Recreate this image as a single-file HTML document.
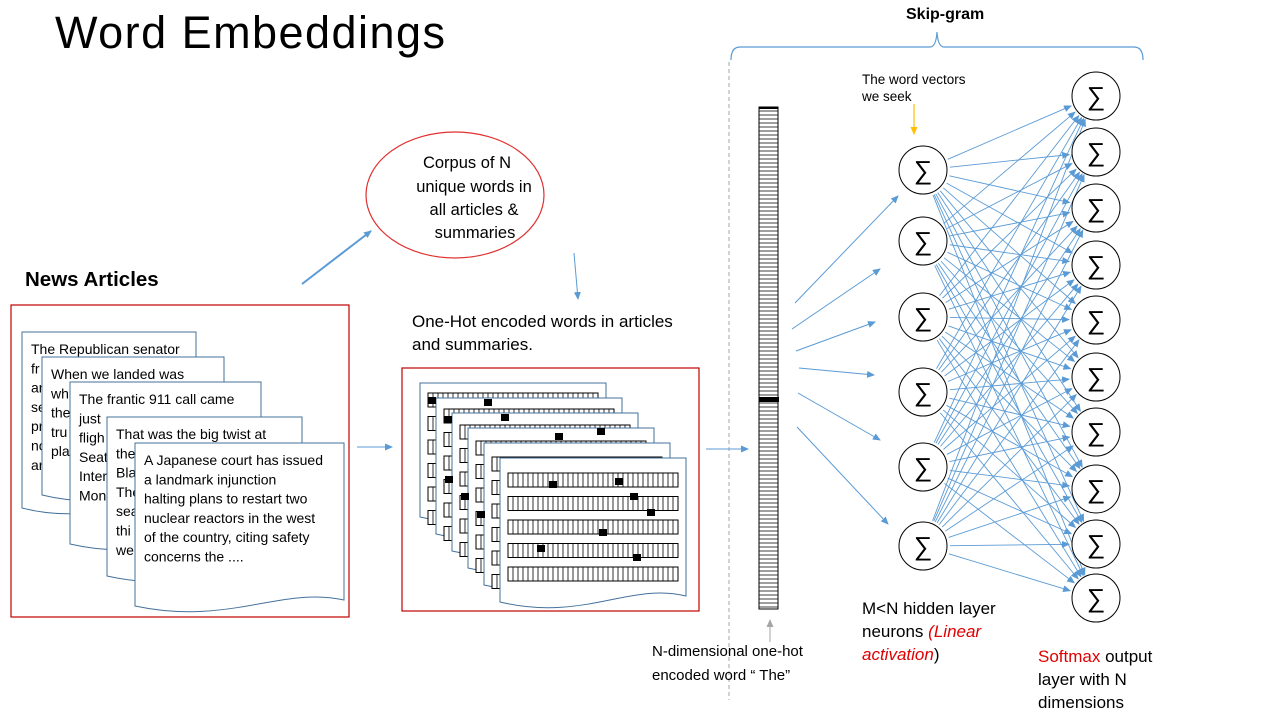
<!DOCTYPE html>
<html><head><meta charset="utf-8"><style>
html,body{margin:0;padding:0;background:#fff;}
svg{display:block;font-family:"Liberation Sans",sans-serif;}
</style></head><body>
<svg id="s" width="1280" height="720" viewBox="0 0 1280 720" xmlns="http://www.w3.org/2000/svg">
<defs>
<marker id="ab" markerWidth="8" markerHeight="8" refX="7" refY="4" orient="auto" markerUnits="userSpaceOnUse"><path d="M0,0.5 L8,4 L0,7.5 Z" fill="#5b9bd5"/></marker>
<marker id="ay" markerWidth="8" markerHeight="8" refX="7" refY="4" orient="auto" markerUnits="userSpaceOnUse"><path d="M0,0.5 L8,4 L0,7.5 Z" fill="#ffc000"/></marker>
<marker id="ag" markerWidth="8" markerHeight="8" refX="7" refY="4" orient="auto" markerUnits="userSpaceOnUse"><path d="M0,0.5 L8,4 L0,7.5 Z" fill="#a6a6a6"/></marker>
</defs>
<text x="55" y="48" font-size="45" fill="#000" textLength="390">Word Embeddings</text>
<text x="906" y="19" font-size="16" font-weight="bold">Skip-gram</text>
<path d="M731,60 Q731,47 740,47 L930,47 Q936,47 937,32 Q938,47 944,47 L1134,47 Q1143,47 1143,60" fill="none" stroke="#5b9bd5" stroke-width="1.2"/>
<line x1="729" y1="62" x2="729" y2="700" stroke="#a6a6a6" stroke-dasharray="4,3"/>

<ellipse cx="455" cy="195" rx="89" ry="63" fill="#fff" stroke="#e03030" stroke-width="1.2"/>
<g font-size="16.5" text-anchor="middle"><text x="467" y="168">Corpus of  N</text><text x="474" y="192">unique words in</text><text x="474" y="215">all articles &amp;</text><text x="475" y="238">summaries</text></g>
<line x1="302" y1="284" x2="371" y2="231" stroke="#5b9bd5" stroke-width="2" marker-end="url(#ab)"/>
<line x1="574" y1="253" x2="578" y2="299" stroke="#5b9bd5" stroke-width="1" marker-end="url(#ab)"/>

<text x="25" y="286" font-size="20.5" font-weight="bold">News Articles</text>
<rect x="11" y="305" width="338" height="312" fill="none" stroke="#c00000" stroke-width="1.2"/>
<g id="docs" stroke="#44719b" stroke-width="1" fill="#fff" font-size="14"></g>

<line x1="357" y1="447" x2="392" y2="447" stroke="#5b9bd5" marker-end="url(#ab)"/>
<g font-size="17"><text x="412" y="327">One-Hot encoded words in articles</text><text x="412" y="350">and summaries.</text></g>
<rect x="402" y="368" width="297" height="243" fill="none" stroke="#c00000" stroke-width="1.2"/>
<g id="oh"></g>
<line x1="706" y1="449" x2="748" y2="449" stroke="#5b9bd5" marker-end="url(#ab)"/>

<g id="vec"></g>
<line x1="770" y1="642" x2="770" y2="620" stroke="#a6a6a6" marker-end="url(#ag)"/>
<g font-size="15"><text x="652" y="656">N-dimensional one-hot</text><text x="652" y="680">encoded  word “ The”</text></g>

<g font-size="13.5"><text x="862" y="84">The word vectors</text><text x="862" y="101">we seek</text></g>
<line x1="914" y1="104" x2="914" y2="134" stroke="#ffc000" stroke-width="1.2" marker-end="url(#ay)"/>
<g id="net" stroke="#5b9bd5" stroke-width="1" fill="none"></g>
<g id="nodes"></g>

<g font-size="17"><text x="862" y="614">M&lt;N hidden layer</text><text x="862" y="637">neurons <tspan fill="#e00000" font-style="italic">(Linear</tspan></text><text x="862" y="660"><tspan fill="#e00000" font-style="italic">activation</tspan>)</text></g>
<g font-size="17"><text x="1038" y="662"><tspan fill="#e00000">Softmax</tspan> output</text><text x="1038" y="685">layer with N</text><text x="1038" y="708">dimensions</text></g>
</svg>
<script>
var NS="http://www.w3.org/2000/svg";
function el(p,t,a,txt){var e=document.createElementNS(NS,t);for(var k in a)e.setAttribute(k,a[k]);if(txt!=null)e.textContent=txt;p.appendChild(e);return e;}
function docPath(x,y,w,h){var b=y+h;return "M"+x+","+y+" L"+(x+w)+","+y+" L"+(x+w)+","+(b-8)+" C"+(x+w*0.7)+","+(b-22)+" "+(x+w*0.45)+","+(b+18)+" "+x+","+(b-2)+" Z";}
var docs=document.getElementById("docs");
var D=[[22,332,174,178,["The Republican senator","fr","ar","se","pr","nc","ar"]],
[42,357,182,140,["When we landed was","wh","the","tru","pla"]],
[70,382,191,164,["The frantic 911 call came","just","fligh","Seat","Inter","Mon"]],
[107,417,195,161,["That was the big twist at","the","Bla","The","sea","thi","we"]],
[135,443,209,165,["A Japanese court has issued","a landmark  injunction","halting plans to restart two","nuclear reactors in the  west","of the country,  citing safety","concerns the ...."]]];
D.forEach(function(d){el(docs,"path",{d:docPath(d[0],d[1],d[2],d[3])});d[4].forEach(function(t,i){el(docs,"text",{x:d[0]+9,y:d[1]+22+i*19.3,stroke:"none",fill:"#000"},t);});});
var oh=document.getElementById("oh");
function bar(x,y,w){var g=el(oh,"g",{});el(g,"rect",{x:x,y:y,width:w,height:14,fill:"#fff",stroke:"#000","stroke-width":1});var d="";for(var i=x+5;i<x+w;i+=5)d+="M"+i+","+y+"v14";el(g,"path",{d:d,stroke:"#000","stroke-width":0.8});}
for(var L=0;L<6;L++){var fx=420+16*L,fy=383+15*L;
el(oh,"path",{d:docPath(fx,fy,186,136+2*L),fill:"#fff",stroke:"#44719b","stroke-width":1});
for(var k=0;k<6;k++){var by=393+16*L+k*23.5;if(by>575)continue;bar(fx+8,by,170);}
}
var sq=[[432,401],[488,403],[505,418],[601,432],[559,437],[449,480],[465,497],[481,515],[553,485],[619,482],[634,497],[651,513],[603,533],[541,549],[637,558],[448,420]];
sq.forEach(function(p){el(oh,"rect",{x:p[0]-4,y:p[1]-4,width:8,height:7,fill:"#000"});});
var vec=document.getElementById("vec");
el(vec,"rect",{x:759,y:107,width:19,height:502,fill:"#fff",stroke:"#000"});
var d="";for(var y=111;y<609;y+=4)d+="M759,"+y+"h19";el(vec,"path",{d:d,stroke:"#000","stroke-width":0.8});
el(vec,"rect",{x:759,y:397,width:20,height:5,fill:"#000"});
el(vec,"rect",{x:759,y:107,width:19,height:2,fill:"#000"});
var net=document.getElementById("net"),nodes=document.getElementById("nodes");
var H=[170,241,317,392,467,546],O=[96,152,208,265,320,377,432,489,544,598];
var hx=923,ox=1094,r=24;
var IN=[[795,303,898,196],[792,329,880,269],[796,351,875,322],[799,368,874,375],[798,393,880,440],[797,427,888,524]];
IN.forEach(function(a){el(net,"line",{x1:a[0],y1:a[1],x2:a[2],y2:a[3],"marker-end":"url(#ab)"});});
H.forEach(function(hy){O.forEach(function(oy){var dx=ox-hx,dy=oy-hy,l=Math.sqrt(dx*dx+dy*dy);
el(net,"line",{x1:hx+dx/l*(r+3),y1:hy+dy/l*(r+3),x2:ox-dx/l*(r+1),y2:oy-dy/l*(r+1),"stroke-width":0.9,"marker-end":"url(#ab)"});});});
function node(x,y){el(nodes,"circle",{cx:x,cy:y,r:r,fill:"#fff",stroke:"#000","stroke-width":1});el(nodes,"text",{x:x,y:y+9,"font-size":"26","text-anchor":"middle","font-family":"DejaVu Sans, sans-serif","font-weight":"200"},"\u2211");}
H.forEach(function(y){node(hx,y);});O.forEach(function(y){node(ox+2,y);});
</script>
</body></html>
